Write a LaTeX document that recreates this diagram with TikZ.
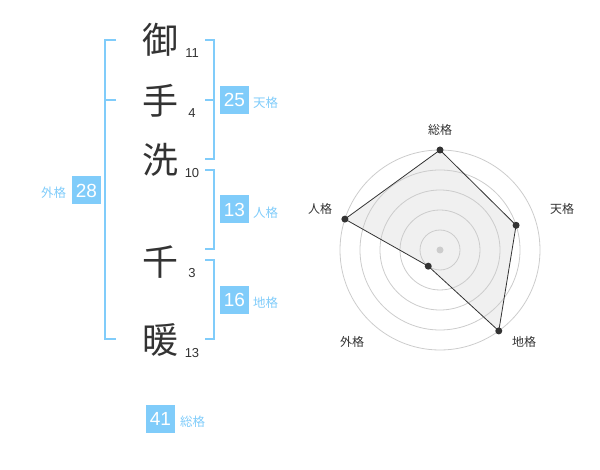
\documentclass[tikz,border=0pt]{standalone}
\usepackage{fontspec}
\setmainfont{Liberation Sans}
\newfontfamily\jpfont{Noto Sans CJK JP}
\usepackage{tikz}
\usetikzlibrary{arrows.meta}
\usetikzlibrary{calc}
\definecolor{kakuBlue}{RGB}{128,204,250}
\definecolor{kakuText}{RGB}{51,51,51}

\begin{document}
\begin{tikzpicture}[x=1pt,y=-1pt,inner sep=0pt,outer sep=0pt,semithick]
  \tikzstyle{kanji}=[text=kakuText,font=\jpfont\fontsize{36}{36}\selectfont]
  \tikzstyle{strokes}=[text=kakuText,font=\fontsize{13}{13}\selectfont]
  \tikzstyle{score}=[fill=kakuBlue,text=white,minimum width=29pt,minimum height=28pt,font=\fontsize{19}{19}\selectfont]
  \tikzstyle{kaku}=[text=kakuBlue,font=\jpfont\fontsize{12.5}{12.5}\selectfont]
  \tikzstyle{bracket}=[draw=kakuBlue,line width=2pt]
  \tikzstyle{ring}=[draw=black!20,line width=0.8pt]
  \tikzstyle{axis label}=[text=kakuText,font=\jpfont\fontsize{12}{12}\selectfont]
  \tikzstyle{dot}=[circle,fill=kakuText,minimum size=7pt]

  \useasboundingbox (0,0) rectangle (600,470);

  % name and stroke counts
  \node[kanji] (k1) at (160,40)  {御};
  \node[kanji] (k2) at (160,101) {手};
  \node[kanji] (k3) at (160,160) {洗};
  \node[kanji] (k4) at (160,262) {千};
  \node[kanji] (k5) at (160,340) {暖};
  \node[strokes] (s1) at (192,53)  {11};
  \node[strokes] (s2) at (192,113) {4};
  \node[strokes] (s3) at (192,173) {10};
  \node[strokes] (s4) at (192,273) {3};
  \node[strokes] (s5) at (192,353) {13};

  % brackets
  \coordinate (lt) at (116,40);  \coordinate (lm) at (116,100); \coordinate (lb) at (116,339);
  \draw[bracket] (lt) -- ++(-11,0) |- (lb);
  \draw[bracket] (lm) -- ++(-11,0);
  \coordinate (tt) at (205,40);  \coordinate (tm) at (205,100); \coordinate (tb) at (205,159);
  \draw[bracket] (tt) -- ++(9,0) |- (tb);
  \draw[bracket] (tm) -- ++(9,0);
  \coordinate (jt) at (205,170); \coordinate (jb) at (205,249);
  \draw[bracket] (jt) -- ++(9,0) |- (jb);
  \coordinate (ct) at (205,260); \coordinate (cb) at (205,339);
  \draw[bracket] (ct) -- ++(9,0) |- (cb);

  % scores
  \node[score] (ten)  at (234.5,100)   {25};
  \node[score] (jin)  at (234.5,209.5) {13};
  \node[score] (chi)  at (234.5,300)   {16};
  \node[score] (gai)  at (86.5,190.5)  {28};
  \node[score] (sou)  at (160.5,419)   {41};
  \node[kaku,anchor=west] (tenL) at (253,103)   {天格};
  \node[kaku,anchor=west] (jinL) at (253,212.5) {人格};
  \node[kaku,anchor=west] (chiL) at (253,303)   {地格};
  \node[kaku,anchor=east] (gaiL) at (66,193)    {外格};
  \node[kaku,anchor=west] (souL) at (180,422)   {総格};

  % radar
  \coordinate (c) at (440,250);
  \coordinate (p1) at ([shift={(90:100pt)}]c);
  \coordinate (p2) at ([shift={(18:80pt)}]c);
  \coordinate (p3) at ([shift={(-54:100pt)}]c);
  \coordinate (p4) at ([shift={(-126:20pt)}]c);
  \coordinate (p5) at ([shift={(162:100pt)}]c);
  \fill[black!6] (p1) -- (p2) -- (p3) -- (p4) -- (p5) -- cycle;
  \foreach \r in {20,40,60,80,100}
    \draw[ring] (c) circle (\r pt);
  \node[circle,fill=black!20,minimum size=7pt] (mid) at (c) {};
  \draw[kakuText,line width=0.8pt] (p1) -- (p2) -- (p3) -- (p4) -- (p5) -- cycle;
  \node[dot] (d1) at (p1) {};
  \node[dot] (d2) at (p2) {};
  \node[dot] (d3) at (p3) {};
  \node[dot] (d4) at (p4) {};
  \node[dot] (d5) at (p5) {};
  \node[axis label] (a1) at (440,130) {総格};
  \node[axis label] (a2) at (562,209) {天格};
  \node[axis label] (a3) at (524,342) {地格};
  \node[axis label] (a4) at (352,342) {外格};
  \node[axis label] (a5) at (320,209) {人格};
\end{tikzpicture}
\end{document}
